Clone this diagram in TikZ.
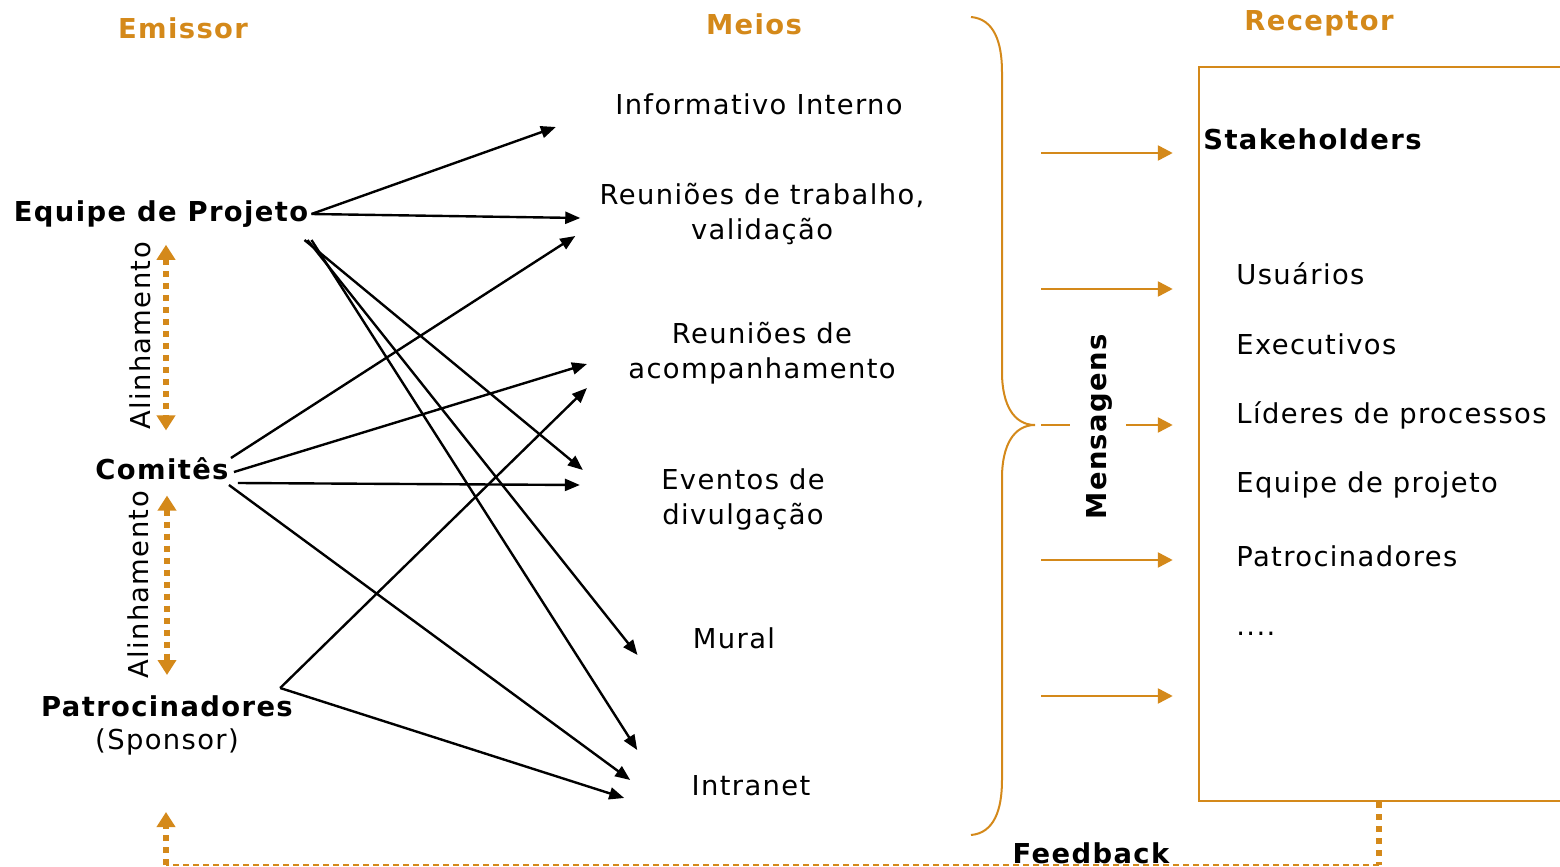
\documentclass[tikz,border=0pt]{standalone}
\usepackage{fontspec}
\setmainfont{DejaVu Sans}[LetterSpace=5]
\usetikzlibrary{arrows.meta,positioning}
\definecolor{laranja}{RGB}{212,137,26}
\newcommand\fonte{\fontsize{13.7pt}{17.5pt}\selectfont}
\tikzset{
  texto/.style={inner sep=0pt},
  titulo/.style={texto,text=laranja,font=\fonte\bfseries},
  emis/.style={texto,font=\fonte\bfseries},
  meio/.style={texto,align=center},
  seta/.style={-{Triangle[length=7.5pt,width=6pt]},line width=1.2pt},
  setalar/.style={-{Triangle[length=7.5pt,width=7.5pt]},draw=laranja,line width=1.3pt},
  pontilhado/.style={draw=laranja,line width=3pt,dash pattern=on 3pt off 3pt},
  tracejado/.style={draw=laranja,line width=1pt,dash pattern=on 3pt off 2pt},
  pontaalin/.tip={Triangle[length=7.5pt,width=9pt]}
}
\begin{document}
\begin{tikzpicture}[x=0.5pt,y=-0.5pt,font=\fonte]
	\useasboundingbox (0,0) rectangle (1560,867);
	\clip (0,0) rectangle (1560,867);

	% titulos
	\node[titulo] (temis) at (183,28) {Emissor};
	\node[titulo] (tmeio) at (754,24) {Meios};
	\node[titulo] (trec) at (1319,23) {Receptor};

	% emissores
	\node[emis] (eq) at (161,214) {Equipe de Projeto};
	\node[emis] (com) at (162,469) {Comitês};
	\node[emis] (pat) at (167,706) {Patrocinadores};
	\node[texto] (spon) at (167,742) {(Sponsor)};

	\draw[pontilhado,pontaalin-pontaalin] ([shift={(5,17)}]eq.south) -- ([shift={(4,-27)}]com.north);
	\draw[pontilhado,pontaalin-pontaalin] ([shift={(5,15)}]com.south) -- ([shift={(0,-20)}]pat.north);
	\node[texto,rotate=90] (al1) at (140,336) {Alinhamento};
	\node[texto,rotate=90] (al2) at (138,585) {Alinhamento};

	% meios
	\node[meio] (inf) at (759,104) {Informativo Interno};
	\node[meio] (trab) at (762,214) {Reuniões de trabalho,\\validação};
	\node[meio] (acomp) at (762,353) {Reuniões de\\acompanhamento};
	\node[meio] (ev) at (743,499) {Eventos de\\divulgação};
	\node[meio] (mural) at (734,638) {Mural};
	\node[meio] (intra) at (751,786) {Intranet};

	% emissor -> meio
	\draw[seta] ([shift={(3,0)}]eq.east) -- ([shift={(-59,23)}]inf.west);
	\draw[seta] ([shift={(3,0)}]eq.east) -- ([shift={(-19,4)}]trab.west);
	\draw[seta] ([shift={(-4,26)}]eq.east) -- ([shift={(-78,-29)}]ev.west);
	\draw[seta] ([shift={(-1,26)}]eq.east) -- ([shift={(-55,17)}]mural.west);
	\draw[seta] ([shift={(3,26)}]eq.east) -- ([shift={(-54,-36)}]intra.west);

	\draw[seta] ([shift={(2,-11)}]com.east) -- ([shift={(-24,22)}]trab.west);
	\draw[seta] ([shift={(5,3)}]com.east) -- ([shift={(-41,11)}]acomp.west);
	\draw[seta] ([shift={(9,14)}]com.east) -- ([shift={(-81,-14)}]ev.west);
	\draw[seta] ([shift={(0,16)}]com.east) -- ([shift={(-61,-6)}]intra.west);

	\draw[seta] ([shift={(-13,-18)}]pat.east) -- ([shift={(-41,35)}]acomp.west);
	\draw[seta] ([shift={(-13,-18)}]pat.east) -- ([shift={(-67,12)}]intra.west);

	% chave
	\coordinate (ponta) at (1035,425);
	\draw[laranja,line width=1pt] (971,17) .. controls (994,19) and (1002,42) .. (1002,72)
		-- (1002,372) .. controls (1002,405) and (1014,425) .. (ponta)
		.. controls (1014,425) and (1002,445) .. (1002,478)
		-- (1002,780) .. controls (1002,810) and (994,833) .. (971,835);

	% receptor
	\node[draw=laranja,line width=1.25pt,minimum width=190.5pt,minimum height=367pt] (caixa) at (1389.5,434) {};
	\node[emis,anchor=west] (stake) at (1203,139) {Stakeholders};
	\node[texto,anchor=west] (r1) at (1236,274) {Usuários};
	\node[texto,anchor=west] (r2) at (1236,344) {Executivos};
	\node[texto,anchor=west] (r3) at (1236,415) {Líderes de processos};
	\node[texto,anchor=west] (r4) at (1236,485) {Equipe de projeto};
	\node[texto,anchor=west] (r5) at (1236,556) {Patrocinadores};
	\node[texto,anchor=west] (r6) at (1236,634) {....};

	% mensagens
	\foreach \y in {153,289,560,696} {
		\coordinate (m\y) at (1041,\y);
		\draw[setalar] (m\y) -- ([xshift=-12.5pt]caixa.west |- m\y);
	}
	\coordinate (m425) at (1041,425);
	\draw[laranja,line width=1.3pt] (m425) -- ++(29,0);
	\draw[setalar] ([xshift=42.5pt]m425) -- ([xshift=-12.5pt]caixa.west |- m425);
	\node[emis,rotate=90] (msg) at (1099,427) {Mensagens};

	% feedback
	\coordinate (fbd) at (1379,865);
	\coordinate (fbe) at (166,865);
	\draw[pontilhado] (fbd |- caixa.south) -- (fbd);
	\draw[tracejado] (fbd) -- (fbe);
	\draw[pontilhado,-pontaalin] (fbe) -- ++(0,-53);
	\node[emis] (fb) at (1091,853) {Feedback};
\end{tikzpicture}
\end{document}
